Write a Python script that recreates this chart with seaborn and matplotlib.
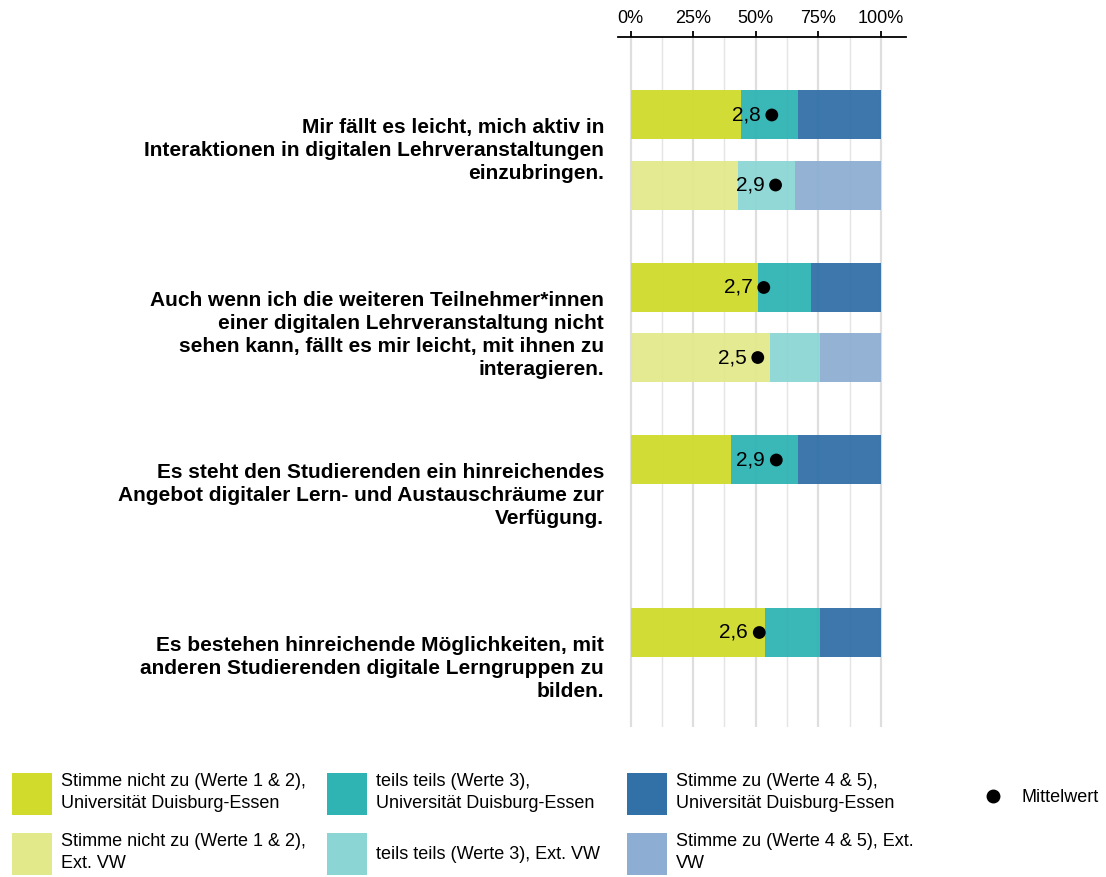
import numpy as np
import pandas as pd
import matplotlib
matplotlib.use("Agg")
import matplotlib.pyplot as plt
import matplotlib.transforms as mtransforms
from matplotlib.patches import Patch
from matplotlib.lines import Line2D
import seaborn as sns

# ---------------- data ----------------
questions = [
    "Mir fällt es leicht, mich aktiv in\nInteraktionen in digitalen Lehrveranstaltungen\neinzubringen.",
    "Auch wenn ich die weiteren Teilnehmer*innen\neiner digitalen Lehrveranstaltung nicht\nsehen kann, fällt es mir leicht, mit ihnen zu\ninteragieren.",
    "Es steht den Studierenden ein hinreichendes\nAngebot digitaler Lern- und Austauschräume zur\nVerfügung.",
    "Es bestehen hinreichende Möglichkeiten, mit\nanderen Studierenden digitale Lerngruppen zu\nbilden.",
]
# Universität Duisburg-Essen (all four questions), percentages
ude_disagree = [44.0, 51.0, 40.0, 53.5]
ude_partly = [23.0, 21.0, 27.0, 22.0]
ude_agree = [33.0, 28.0, 33.0, 24.5]
ude_mean = [2.82, 2.66, 2.91, 2.57]
# Ext. VW (first two questions only)
ext_disagree = [42.8, 55.5]
ext_partly = [22.7, 20.2]
ext_agree = [34.5, 24.3]
ext_mean = [2.895, 2.54]

tick_values = [0, 25, 50, 75, 100]
tick_labels = ["0%", "25%", "50%", "75%", "100%"]

legend_labels = [
    "Stimme nicht zu (Werte 1 & 2),\nUniversität Duisburg-Essen",
    "Stimme nicht zu (Werte 1 & 2),\nExt. VW",
    "teils teils (Werte 3),\nUniversität Duisburg-Essen",
    "teils teils (Werte 3), Ext. VW",
    "Stimme zu (Werte 4 & 5),\nUniversität Duisburg-Essen",
    "Stimme zu (Werte 4 & 5), Ext.\nVW",
    "Mittelwert",
]

# colours
ude_colors = ["#D0DB2C", "#2FB3B3", "#3270A8"]
ext_colors = ["#E2E98B", "#8BD6D4", "#8DAED2"]

# ---------------- layout helpers ----------------
ext_offset = 0.406
bar_h = 0.284
ude_pos = np.arange(len(ude_disagree), dtype=float)
ext_pos = np.arange(len(ext_disagree), dtype=float) + ext_offset

sns.set_theme(style="white")
plt.rcParams["font.family"] = ["Liberation Sans", "DejaVu Sans"]
plt.rcParams["text.color"] = "black"
plt.rcParams["legend.labelcolor"] = "black"

fig = plt.figure(figsize=(11.06, 8.77), dpi=100)
ax = fig.add_axes([0.5588, 0.171, 0.2604, 0.7868])


def stacked(pos, segs, colors):
    left = np.zeros(len(pos))
    for vals, c in zip(segs, colors):
        df = pd.DataFrame({"pos": pos, "val": vals})
        sns.barplot(data=df, x="val", y="pos", orient="y", native_scale=True,
                    width=bar_h, color=c, saturation=1, errorbar=None,
                    left=left.copy(), linewidth=0, alpha=0.95, zorder=2, ax=ax)
        left = left + np.asarray(vals)


stacked(ude_pos, [ude_disagree, ude_partly, ude_agree], ude_colors)
stacked(ext_pos, [ext_disagree, ext_partly, ext_agree], ext_colors)

# means (mean on 1-5 scale shown at mean/5 of the bar)
mean_df = pd.DataFrame({
    "x": np.concatenate([np.array(ude_mean), np.array(ext_mean)]) * 20,
    "y": np.concatenate([ude_pos, ext_pos]),
    "m": ude_mean + ext_mean,
})
sns.scatterplot(data=mean_df, x="x", y="y", color="black", s=85,
                edgecolor="none", zorder=5, legend=False, ax=ax)
for _, r in mean_df.iterrows():
    ax.annotate(f"{r['m']:.1f}".replace(".", ","), xy=(r["x"], r["y"]),
                xytext=(-8, 0), textcoords="offset points", ha="right",
                va="center", fontsize=15, color="black", zorder=6)

# axes styling
ax.set_xlim(-5, 110)
ax.set_ylim(3.548, -0.452)
ax.xaxis.tick_top()
ax.set_xticks(tick_values)
ax.set_xticklabels(tick_labels)
ax.set_xticks([12.5, 37.5, 62.5, 87.5], minor=True)
ax.tick_params(axis="x", which="major", direction="out", length=4, width=1.3,
               color="black", top=True, bottom=False, labelsize=13, pad=3,
               labelcolor="black")
ax.tick_params(axis="x", which="minor", length=0, top=False, bottom=False)
ax.grid(False)
ax.grid(True, which="major", axis="x", color="#DEDEDE", lw=1.6, zorder=0)
ax.grid(True, which="minor", axis="x", color="#E4E4E4", lw=1.0, zorder=0)
ax.set_axisbelow(True)
ax.set_yticks([])
ax.set_xlabel("")
ax.set_ylabel("")
for s in ["left", "right", "bottom"]:
    ax.spines[s].set_visible(False)
ax.spines["top"].set_color("black")
ax.spines["top"].set_linewidth(1.3)

# question labels: top of text block just below the UDE bar centre
blend = mtransforms.blended_transform_factory(ax.transAxes, ax.transData)
for q, p in zip(questions, ude_pos):
    ax.annotate(q, xy=(0, p), xycoords=blend, xytext=(-10, -2.5),
                textcoords="offset points", ha="right", va="top",
                multialignment="right", fontsize=15, fontweight="bold",
                color="black", linespacing=1.26, annotation_clip=False)

# legend (four columns)
handles = [Patch(facecolor=c, edgecolor="none") for pair in zip(ude_colors, ext_colors) for c in pair]
col_x = [12 / 1106, 327 / 1106, 627 / 1106]
top_y = 1 - 773 / 877
leg_kw = dict(loc="upper left", frameon=False, fontsize=13, handlelength=2.2,
              handleheight=3.2, handletextpad=0.5, labelspacing=1.0,
              borderpad=0, borderaxespad=0)
for i, x0 in enumerate(col_x):
    leg = fig.legend(handles=handles[2 * i:2 * i + 2],
                     labels=legend_labels[2 * i:2 * i + 2],
                     bbox_to_anchor=(x0, top_y), **leg_kw)
    for t in leg.get_texts():
        t.set_linespacing(1.38)
mkw = dict(leg_kw)
mkw["handleheight"] = 0.7
fig.legend(handles=[Line2D([], [], marker="o", color="black", linestyle="none",
                           markersize=9)],
           labels=[legend_labels[6]], bbox_to_anchor=(973 / 1106, 1 - 789 / 877),
           **mkw)

fig.savefig("out.png", dpi=100)
